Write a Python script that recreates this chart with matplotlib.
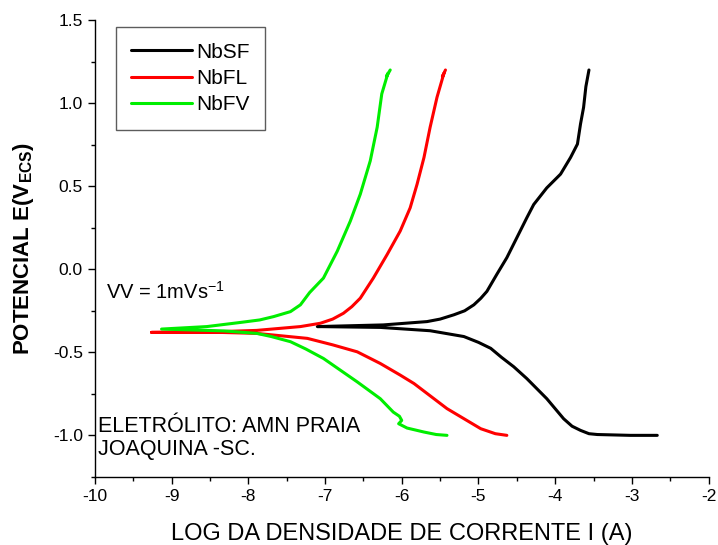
import numpy as np
import matplotlib.pyplot as plt
from matplotlib.ticker import MultipleLocator

plt.rcParams['font.family'] = ['Liberation Sans', 'DejaVu Sans']
plt.rcParams['mathtext.fontset'] = 'custom'
plt.rcParams['mathtext.rm'] = 'Liberation Sans'
plt.rcParams['mathtext.bf'] = 'Liberation Sans:bold'

# curves: anodic top -> Ecorr -> cathodic end
sf_x = [-3.56, -3.58, -3.60, -3.63, -3.67, -3.71, -3.80, -3.93, -4.11, -4.28, -4.37, -4.50,
        -4.63, -4.76, -4.89, -4.97, -5.06, -5.18, -5.32, -5.50, -5.67, -6.24, -7.10,
        -6.28, -5.63, -5.19, -5.00, -4.84, -4.70, -4.54, -4.37, -4.11, -3.89, -3.78, -3.67,
        -3.56, -3.45, -3.02, -2.67]
sf_y = [1.20, 1.15, 1.10, 0.975, 0.875, 0.754, 0.673, 0.573, 0.49, 0.39, 0.31, 0.19,
        0.07, -0.03, -0.133, -0.175, -0.214, -0.25, -0.274, -0.30, -0.315, -0.335, -0.345,
        -0.35, -0.37, -0.405, -0.44, -0.476, -0.53, -0.587, -0.658, -0.779, -0.90, -0.945, -0.97,
        -0.99, -0.995, -1.0, -1.0]

fl_x = [-5.43, -5.47, -5.45, -5.54, -5.63, -5.71, -5.80, -5.89, -6.02, -6.19, -6.37, -6.54,
        -6.65, -6.76, -6.90, -7.06, -7.32, -7.89, -8.54, -9.26,
        -8.54, -7.89, -7.23, -6.90, -6.58, -6.28, -6.02, -5.84, -5.41, -4.97, -4.78, -4.63]
fl_y = [1.20, 1.16, 1.18, 1.036, 0.855, 0.673, 0.512, 0.37, 0.23, 0.089, -0.053, -0.174,
        -0.225, -0.265, -0.30, -0.325, -0.345, -0.368, -0.378, -0.38,
        -0.378, -0.386, -0.416, -0.455, -0.497, -0.567, -0.637, -0.688, -0.839, -0.96, -0.99, -1.0]

fv_x = [-6.15, -6.20, -6.18, -6.26, -6.32, -6.41, -6.54, -6.67, -6.84, -7.02, -7.20, -7.32,
        -7.45, -7.67, -7.85, -8.10, -8.54, -9.13,
        -8.32, -7.89, -7.70, -7.45, -7.25, -7.02, -6.58, -6.28, -6.11, -6.03, -6.00, -6.04,
        -5.93, -5.71, -5.55, -5.41]
fv_y = [1.20, 1.16, 1.18, 1.056, 0.855, 0.653, 0.452, 0.29, 0.109, -0.053, -0.14, -0.214,
        -0.255, -0.285, -0.305, -0.32, -0.345, -0.36,
        -0.371, -0.386, -0.405, -0.436, -0.48, -0.537, -0.678, -0.779, -0.86, -0.885, -0.91,
        -0.93, -0.956, -0.98, -0.995, -1.0]

fig = plt.figure(figsize=(7.18, 5.45), dpi=100)
ax = fig.add_axes([0.132, 0.125, 0.855, 0.838])

kw = dict(lw=2.2, solid_joinstyle='round', solid_capstyle='round')
ax.plot(sf_x, sf_y, color='black', label='NbSF', **kw)
ax.plot(fl_x, fl_y, color='#ff0000', label='NbFL', **kw)
ax.plot(fv_x, fv_y, color='#00ee00', label='NbFV', **kw)

ax.set_xlim(-10, -2)
ax.set_ylim(-1.25, 1.5)
ax.xaxis.set_major_locator(MultipleLocator(1))
ax.xaxis.set_minor_locator(MultipleLocator(0.5))
ax.yaxis.set_major_locator(MultipleLocator(0.5))
ax.yaxis.set_minor_locator(MultipleLocator(0.25))
ax.tick_params(which='both', direction='out', labelsize=12.5, width=1)
ax.tick_params(which='major', length=5)
ax.tick_params(which='minor', length=3)
ax.spines['top'].set_visible(False)
ax.spines['right'].set_visible(False)
ax.spines['left'].set_linewidth(1)
ax.spines['bottom'].set_linewidth(1)
ax.yaxis.set_major_formatter(plt.FuncFormatter(lambda v, p: f'{v:.1f}'))
ax.xaxis.set_major_formatter(plt.FuncFormatter(lambda v, p: f'{v:.0f}'))

ax.set_xlabel('LOG DA DENSIDADE DE CORRENTE I (A)', fontsize=17, labelpad=14)
ax.set_ylabel(r'POTENCIAL E(V$_{\mathbf{ECS}}$)', fontsize=16, fontweight='bold', labelpad=12)

ax.text(-9.85, -0.133, r'VV = 1mVs$^{\mathrm{-1}}$', fontsize=14.5, va='center')
ax.text(-9.96, -1.017, 'ELETRÓLITO: AMN PRAIA\nJOAQUINA -SC.', fontsize=15.5, va='center',
        linespacing=1.1)

leg = ax.legend(loc='upper left', bbox_to_anchor=(0.034, 0.985), fontsize=15, frameon=True,
                fancybox=False, handlelength=2.9, handletextpad=0.2, borderpad=0.75,
                labelspacing=0.35, borderaxespad=0)
leg.get_frame().set_edgecolor('#333333')
leg.get_frame().set_linewidth(1)

fig.savefig('out.png', dpi=100)
